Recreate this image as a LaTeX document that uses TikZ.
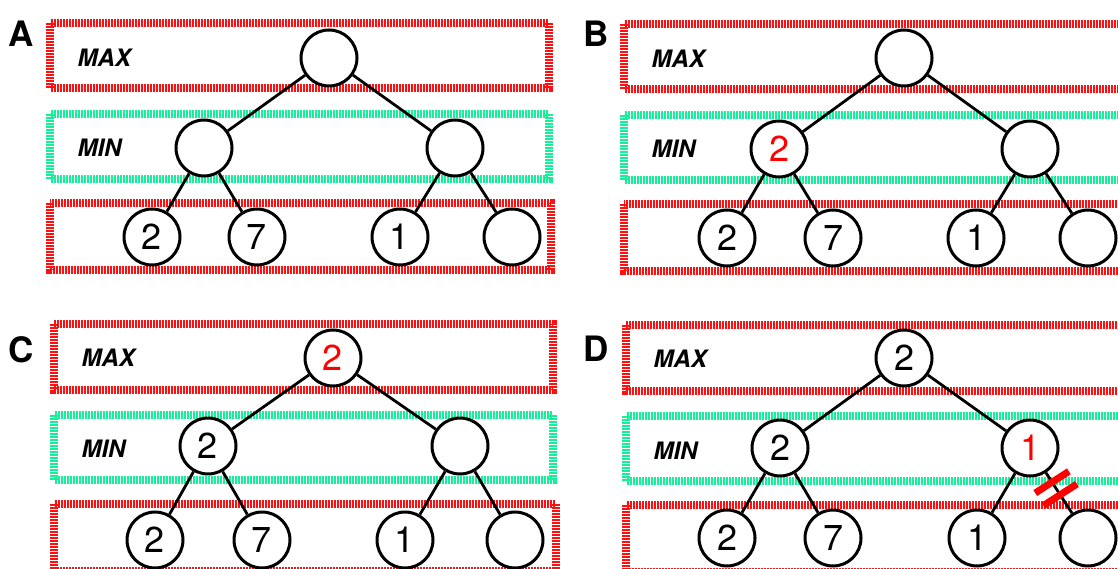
\documentclass[tikz,border=0pt]{standalone}
\usepackage{fontspec}
\setmainfont{TeX Gyre Heros}
\usepackage{xcolor}
\usepackage{tikz}
\usetikzlibrary{calc}
\definecolor{maxred}{RGB}{255,15,15}
\definecolor{mingreen}{RGB}{20,240,150}
\tikzset{
	band/.style={line width=8pt,dash pattern=on 2pt off 1pt},
	maxbox/.style={band,draw=maxred},
	minbox/.style={band,draw=mingreen},
	tnode/.style={circle,draw,line width=3pt,minimum size=56pt,inner sep=0pt,fill=white,font=\fontsize{36}{36}\selectfont},
	branch/.style={line width=2.8pt},
	rowname/.style={anchor=west,font=\fontsize{24}{24}\selectfont\bfseries\itshape},
	panel/.style={font=\fontsize{35}{35}\selectfont\bfseries},
	cut/.style={draw=red,line width=7pt}
}

\begin{document}
\begin{tikzpicture}[x=1pt,y=-1pt]
	\useasboundingbox (0,0) rectangle (1118,569);
	\clip (0,0) rectangle (1118,569);

	% A
	\begin{scope}
	\node[panel] (pa) at (21,34) {A};
	\draw[maxbox] (50,23) rectangle (549,88);
	\draw[minbox] (50,114) rectangle (549,179);
	\draw[maxbox] (50,203) rectangle (551,269.5);
	\node[rowname] (amax) at (74,58) {MAX};
	\node[rowname] (amin) at (74,148) {MIN};
	\node[tnode] (ar) at (329,58) {};
	\node[tnode] (am1) at (204,148) {};
	\node[tnode] (am2) at (455,148) {};
	\node[tnode] (al1) at (152,237) {2};
	\node[tnode] (al2) at (257,237) {7};
	\node[tnode] (al3) at (400,237) {1};
	\node[tnode] (al4) at (512,237) {};
	\foreach \a/\b in {ar/am1,ar/am2,am1/al1,am1/al2,am2/al3,am2/al4}
	{
		\draw[branch] (\a) -- (\b);
	}
	\end{scope}

	% B
	\begin{scope}[xshift=574pt,yshift=-1pt]
	\node[panel] (pb) at (22.5,33) {B};
	\draw[maxbox] (50,23) rectangle (549,88);
	\draw[minbox] (50,114) rectangle (549,179);
	\draw[maxbox] (50,203) rectangle (551,269.5);
	\node[rowname] (bmax) at (74,58) {MAX};
	\node[rowname] (bmin) at (74,148) {MIN};
	\node[tnode] (br) at (330,57) {};
	\node[tnode] (bm1) at (205,148) {\textcolor{red}{2}};
	\node[tnode] (bm2) at (456,148) {};
	\node[tnode] (bl1) at (153,237) {2};
	\node[tnode] (bl2) at (259,237) {7};
	\node[tnode] (bl3) at (402,237) {1};
	\node[tnode] (bl4) at (514,237) {};
	\foreach \a/\b in {br/bm1,br/bm2,bm1/bl1,bm1/bl2,bm2/bl3,bm2/bl4}
	{
		\draw[branch] (\a) -- (\b);
	}
	\end{scope}

	% C
	\begin{scope}[xshift=4pt,yshift=-301pt]
	\node[panel] (pc) at (17.5,48.5) {C};
	\draw[maxbox] (50,23) rectangle (549,89);
	\draw[minbox] (50,114) rectangle (549,179);
	\draw[maxbox] (50,203) rectangle (552,269.5);
	\node[rowname] (cmax) at (74,57) {MAX};
	\node[rowname] (cmin) at (74,148) {MIN};
	\node[tnode] (cr) at (329,57) {\textcolor{red}{2}};
	\node[tnode] (cm1) at (204,145) {2};
	\node[tnode] (cm2) at (456,145) {};
	\node[tnode] (cl1) at (151,239) {2};
	\node[tnode] (cl2) at (258,239) {7};
	\node[tnode] (cl3) at (401,239) {1};
	\node[tnode] (cl4) at (511,239) {};
	\foreach \a/\b in {cr/cm1,cr/cm2,cm1/cl1,cm1/cl2,cm2/cl3,cm2/cl4}
	{
		\draw[branch] (\a) -- (\b);
	}
	\end{scope}

	% D
	\begin{scope}[xshift=576pt,yshift=-302pt]
	\node[panel] (pd) at (20.5,46.5) {D};
	\draw[maxbox] (50,23) rectangle (549,89);
	\draw[minbox] (50,114) rectangle (549,179);
	\draw[maxbox] (50,203) rectangle (552,269.5);
	\node[rowname] (dmax) at (74,57) {MAX};
	\node[rowname] (dmin) at (74,149) {MIN};
	\node[tnode] (dr) at (328,56) {2};
	\node[tnode] (dm1) at (204,146) {2};
	\node[tnode] (dm2) at (454,146) {\textcolor{red}{1}};
	\node[tnode] (dl1) at (151,236) {2};
	\node[tnode] (dl2) at (257,236) {7};
	\node[tnode] (dl3) at (401,236) {1};
	\node[tnode] (dl4) at (512,236) {};
	\foreach \a/\b in {dr/dm1,dr/dm2,dm1/dl1,dm1/dl2,dm2/dl3,dm2/dl4}
	{
		\draw[branch] (\a) -- (\b);
	}
	% pruned branch
	\coordinate (dc1) at ($(dm2)!0.38!(dl4)$);
	\coordinate (dc2) at ($(dm2)!0.52!(dl4)$);
	\draw[cut] ($(dc1)!20pt!90:(dl4)$) -- ($(dc1)!20pt!-90:(dl4)$);
	\draw[cut] ($(dc2)!20pt!90:(dl4)$) -- ($(dc2)!20pt!-90:(dl4)$);
	\end{scope}
\end{tikzpicture}
\end{document}
